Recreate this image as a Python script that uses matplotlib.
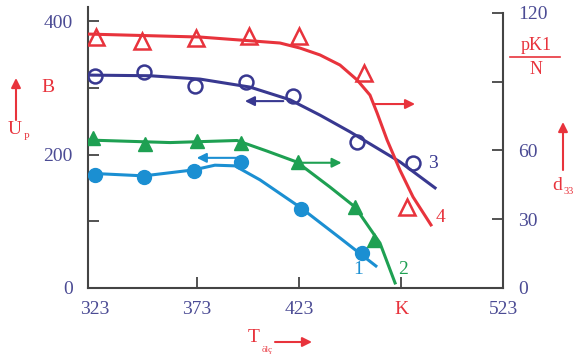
import matplotlib
matplotlib.use("Agg")
import matplotlib.pyplot as plt
from matplotlib.lines import Line2D

plt.rcParams['font.family'] = ['Liberation Serif', 'DejaVu Serif']

RED = '#e8333c'
NAVY = '#383890'
SKY = '#1b8fd2'
GREEN = '#1ea052'
NUM = '#4b4b94'
AXC = '#444444'

# measured points and drawn trend curves
# 1 - left axis (U_P), filled circles
t1 = [323.0, 347.0, 371.7, 394.6, 424.0, 453.7]
u1 = [169, 167, 176, 189, 118, 52]
c1_t = [319.6, 347.0, 371.5, 381.8, 391.6, 403.9, 424.0, 443.1, 460.7]
c1_u = [172, 168, 177, 184, 183, 162, 120, 75, 33]

# 2 - right axis (d33), filled triangles
t2 = [322.2, 347.5, 372.9, 394.6, 422.7, 450.5, 459.8]
d2 = [65.3, 62.8, 64.2, 63.3, 55.1, 35.2, 20.9]
c2_t = [319.6, 359.8, 392.6, 407.3, 422.0, 438.2, 450.5, 462.7, 470.1]
c2_d = [64.5, 63.4, 64.3, 59.7, 54.9, 44.0, 35.3, 19.6, 2.2]

# 3 - left axis, open circles
t3 = [323.0, 347.2, 372.0, 396.9, 420.2, 451.3, 478.7]
u3 = [317, 323, 302, 309, 288, 219, 187]
c3_t = [319.6, 350.0, 374.5, 399.0, 418.6, 433.3, 448.0, 472.5, 489.7]
c3_u = [319, 318, 313, 301, 282, 259, 234, 189, 150]

# 4 - right axis, open triangles
t4 = [323.5, 345.9, 372.5, 398.6, 422.9, 454.9, 475.8]
d4 = [109.4, 107.8, 108.9, 110.0, 109.9, 93.6, 35.2]
c4_t = [319.6, 374.5, 413.7, 423.5, 433.3, 443.1, 451.5, 457.8, 461.3,
        466.2, 472.5, 478.9, 487.7]
c4_d = [110.7, 109.4, 106.8, 104.6, 101.6, 97.2, 90.7, 84.1, 76.3,
        64.5, 51.4, 39.7, 27.5]

x_ticks = [323, 373, 423, 473, 523]
x_labels = ['323', '373', '423', 'K', '523']
left_ticks = [0, 100, 200, 300, 400]
left_labels = ['0', '', '200', '', '400']
right_ticks = [0, 30, 60, 90, 120]
right_labels = ['0', '30', '60', '', '120']

W, H = 574, 358
fig = plt.figure(figsize=(W / 100, H / 100), dpi=100)
ax = fig.add_axes([88 / W, 70 / H, 415 / W, 281 / H])
ax2 = ax.twinx()

ax.set_xlim(319.6, 523)
ax.set_ylim(0, 421)
ax2.set_ylim(0, 122.5)

lw = 2.2
ax.plot(c1_t, c1_u, color=SKY, lw=lw, zorder=2)
ax.plot(t1, u1, 'o', color=SKY, ms=10, zorder=3)
ax.plot(c3_t, c3_u, color=NAVY, lw=lw, zorder=2)
ax.plot(t3, u3, 'o', mfc='none', mec=NAVY, mew=1.8, ms=10, zorder=3)
ax2.plot(c2_t, c2_d, color=GREEN, lw=lw, zorder=2)
ax2.plot(t2, d2, '^', color=GREEN, ms=10, zorder=3)
ax2.plot(c4_t, c4_d, color=RED, lw=lw, zorder=2)
ax2.plot(t4, d4, '^', mfc='none', mec=RED, mew=1.8, ms=11, zorder=3)

# arrows showing which axis each curve belongs to
arr = dict(arrowstyle='-|>', lw=1.5, mutation_scale=14, shrinkA=0, shrinkB=0)
ax.annotate('', xy=(396.5, 280), xytext=(415.3, 280), arrowprops=dict(arr, color=NAVY))
ax.annotate('', xy=(372.9, 195), xytext=(392.5, 195), arrowprops=dict(arr, color=SKY))
ax2.annotate('', xy=(443.9, 54.6), xytext=(424.3, 54.6), arrowprops=dict(arr, color=GREEN))
ax2.annotate('', xy=(479.9, 80.2), xytext=(460.3, 80.2), arrowprops=dict(arr, color=RED))

ax.text(451.9, 27, '1', color=SKY, fontsize=14, ha='center', va='center')
ax.text(474.0, 27, '2', color=GREEN, fontsize=14, ha='center', va='center')
ax.text(488.5, 187, '3', color=NAVY, fontsize=14, ha='center', va='center')
ax.text(492.6, 105, '4', color=RED, fontsize=14, ha='center', va='center')

for a in (ax, ax2):
    a.spines['top'].set_visible(False)
    for s in a.spines.values():
        s.set_color(AXC)
        s.set_linewidth(1.5)
ax.spines['right'].set_visible(False)
ax2.spines['left'].set_visible(False)
ax2.spines['bottom'].set_visible(False)
ax2.spines['right'].set_bounds(0, 120)

ax.set_xticks(x_ticks, x_labels)
ax.set_yticks(left_ticks, left_labels)
ax2.set_yticks(right_ticks, right_labels)
ax.tick_params(axis='x', direction='in', length=8, width=1.3, color=AXC,
               pad=9, labelsize=14, labelcolor=NUM)
ax.tick_params(axis='y', direction='in', length=8, width=1.3, color=AXC,
               pad=11, labelsize=14, labelcolor=NUM)
ax2.tick_params(axis='y', direction='in', length=8, width=1.3, color=AXC,
                pad=11, labelsize=14, labelcolor=NUM)
ax.get_xticklabels()[3].set_color(RED)
xt = ax.xaxis.get_major_ticks()
xt[0].tick1line.set_visible(False)
xt[-1].tick1line.set_visible(False)


def fx(px):
    return px / W


def fy(py):
    return 1 - py / H


# axis captions outside the frame
fig.text(fx(48), fy(88), 'B', color=RED, fontsize=14, ha='center', va='center')
fig.text(fx(15), fy(130), 'U', color=RED, fontsize=14, ha='center', va='center')
fig.text(fx(27), fy(138), 'P', color=RED, fontsize=7.5, ha='center', va='center')
fig.add_artist(plt.Annotation('', xy=(fx(16), fy(78)), xytext=(fx(16), fy(120)),
                              xycoords='figure fraction',
                              arrowprops=dict(arr, color=RED)))

fig.text(fx(536), fy(45), 'pK1', color=RED, fontsize=13, ha='center', va='center')
fig.add_artist(Line2D([fx(510), fx(560)], [fy(57), fy(57)], color=RED, lw=1.2))
fig.text(fx(536), fy(70), 'N', color=RED, fontsize=13, ha='center', va='center')
fig.text(fx(557), fy(186), 'd', color=RED, fontsize=14, ha='center', va='center')
fig.text(fx(569), fy(192), '33', color=RED, fontsize=7.5, ha='center', va='center')
fig.add_artist(plt.Annotation('', xy=(fx(563), fy(122)), xytext=(fx(563), fy(170)),
                              xycoords='figure fraction',
                              arrowprops=dict(arr, color=RED)))

fig.text(fx(254), fy(338), 'T', color=RED, fontsize=14, ha='center', va='center')
fig.text(fx(267), fy(350), 'ölç', color=RED, fontsize=6.5, ha='center', va='center')
fig.add_artist(plt.Annotation('', xy=(fx(312), fy(342)), xytext=(fx(275), fy(342)),
                              xycoords='figure fraction',
                              arrowprops=dict(arr, color=RED)))

fig.savefig('out.png', dpi=100)
